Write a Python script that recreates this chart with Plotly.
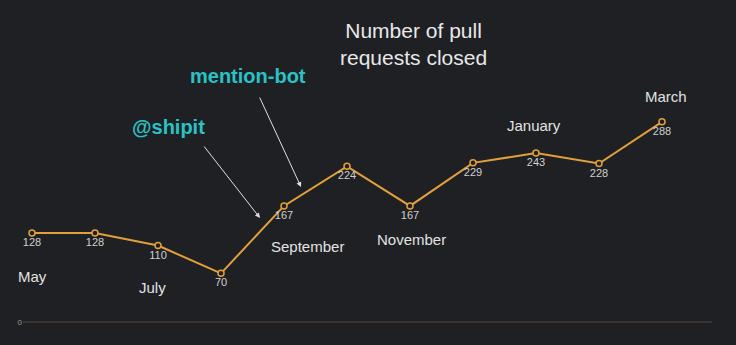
import plotly.graph_objects as go

months = ["May", "June", "July", "August", "September", "October", "November",
          "December", "January", "February", "March"]
closed_prs = [128, 128, 110, 70, 167, 224, 167, 229, 243, 228, 288]

label_months = ["May", "July", "September", "November", "January", "March"]
label_pos_x = [0.0, 1.92, 4.38, 6.03, 7.97, 10.06]
label_pos_y = [66, 49, 108, 118, 283, 325]

title_text = "Number of pull<br>requests closed"
callouts = ["@shipit", "mention-bot"]

BG = "#1f2023"
LINE = "#e2a03c"
FONT = "Liberation Sans, Arial, sans-serif"

x_idx = list(range(len(months)))

fig = go.Figure()
fig.add_trace(go.Scatter(
    x=x_idx, y=closed_prs,
    mode="lines+markers+text",
    line=dict(color=LINE, width=2),
    marker=dict(symbol="circle", size=6, color=BG, line=dict(color=LINE, width=1.5)),
    text=[str(v) for v in closed_prs],
    textposition="bottom center",
    textfont=dict(size=11, color="#cfcfcf", family=FONT),
    hoverinfo="skip",
    showlegend=False,
))

annotations = []
for m, ax_, ay_ in zip(label_months, label_pos_x, label_pos_y):
    annotations.append(dict(x=ax_, y=ay_, xref="x", yref="y", text=m, showarrow=False,
                            font=dict(size=15, color="#e2e2e2", family=FONT)))

annotations.append(dict(xref="paper", yref="paper", x=(413 - 23) / 689, y=(332 - 44) / 332,
                        xanchor="center", yanchor="middle",
                        text=title_text, showarrow=False, align="center",
                        font=dict(size=21, color="#e8e8e8", family=FONT)))

# callout labels
annotations.append(dict(xref="x", yref="y", x=(168 - 32) / 63, y=(322 - 127) / 0.695,
                        text="<b>" + callouts[0] + "</b>", showarrow=False,
                        font=dict(size=20, color="#2ac2c6", family=FONT)))
annotations.append(dict(xref="x", yref="y", x=(248 - 32) / 63, y=(322 - 76) / 0.695,
                        text="<b>" + callouts[1] + "</b>", showarrow=False,
                        font=dict(size=20, color="#2ac2c6", family=FONT)))
# arrows
annotations.append(dict(xref="x", yref="y", x=(260 - 32) / 63, y=(322 - 218) / 0.695,
                        text="", showarrow=True, ax=-57, ay=-73, axref="pixel", ayref="pixel",
                        arrowhead=2, arrowsize=1, arrowwidth=1, arrowcolor="#e0e0e0"))
annotations.append(dict(xref="x", yref="y", x=(301 - 32) / 63, y=(322 - 187) / 0.695,
                        text="", showarrow=True, ax=-42, ay=-91, axref="pixel", ayref="pixel",
                        arrowhead=2, arrowsize=1, arrowwidth=1, arrowcolor="#e0e0e0"))

fig.update_layout(
    width=736, height=345,
    margin=dict(l=23, r=24, t=0, b=13),
    paper_bgcolor=BG, plot_bgcolor=BG,
    xaxis=dict(range=[-9 / 63, 680 / 63], visible=False, showgrid=False, zeroline=False),
    yaxis=dict(range=[-10 / 0.695, 322 / 0.695], showgrid=False, zeroline=True,
               zerolinecolor="#3b3431", zerolinewidth=2, tickvals=[0], ticktext=["0"],
               tickfont=dict(size=8, color="#9a9a9a", family=FONT), showline=False,
               ticks=""),
    annotations=annotations,
)

fig.write_html("out.html")
